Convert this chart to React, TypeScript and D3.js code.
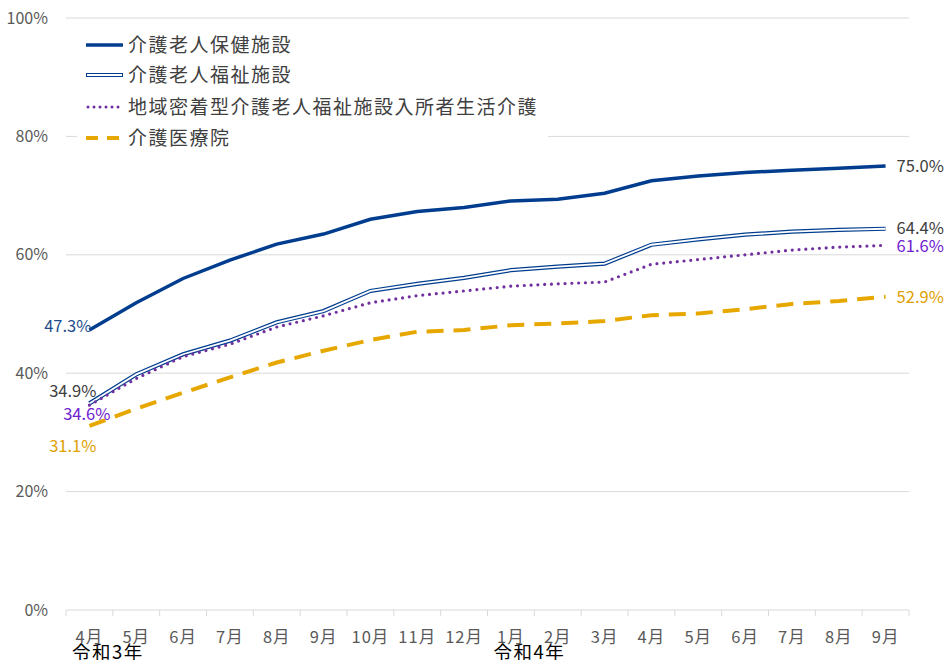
import React from "react";
import * as d3 from "d3";

const months = ["4月","5月","6月","7月","8月","9月","10月","11月","12月","1月","2月","3月","4月","5月","6月","7月","8月","9月"];
const eras = [{ label: "令和3年", index: 0 }, { label: "令和4年", index: 9 }];
const seriesNames = ["介護老人保健施設","介護老人福祉施設","地域密着型介護老人福祉施設入所者生活介護","介護医療院"];
const rouken = [47.3,51.9,56.0,59.1,61.8,63.5,66.0,67.3,68.0,69.1,69.4,70.4,72.5,73.3,73.9,74.3,74.6,75.0];
const tokuyo = [34.9,39.8,43.2,45.5,48.6,50.5,53.9,55.1,56.1,57.4,58.0,58.5,61.7,62.6,63.4,63.9,64.2,64.4];
const chiiki = [34.6,39.1,42.8,44.9,47.8,49.7,51.9,53.1,53.9,54.7,55.1,55.4,58.4,59.2,60.0,60.8,61.3,61.6];
const iryoin = [31.1,34.0,36.7,39.3,41.8,43.8,45.6,47.0,47.3,48.1,48.4,48.8,49.8,50.1,50.8,51.7,52.2,52.9];
const yTicks = [0,20,40,60,80,100];

const W = 944, H = 660;
const left = 66, right = 909, top = 18, bottom = 610;
const font = "'Noto Sans CJK JP','Noto Sans',sans-serif";

export default function App() {
  const x = d3.scaleBand<number>().domain(months.map((_, i) => i)).range([left, right]).padding(0);
  const y = d3.scaleLinear().domain([0, 100]).range([bottom, top]);
  const cx = (i: number) => (x(i) as number) + x.bandwidth() / 2;
  const line = d3.line<number>().x((_, i) => cx(i)).y(d => y(d));
  const last = months.length - 1;
  const boundaries = months.map((_, i) => x(i) as number).concat([right]);

  const startLabels = [
    { v: rouken[0], text: `${rouken[0].toFixed(1)}%`, color: "#1f4e8c", dx: 2, dy: -4 },
    { v: tokuyo[0], text: `${tokuyo[0].toFixed(1)}%`, color: "#404040", dx: 7, dy: -12 },
    { v: chiiki[0], text: `${chiiki[0].toFixed(1)}%`, color: "#7020d0", dx: 21, dy: 9 },
    { v: iryoin[0], text: `${iryoin[0].toFixed(1)}%`, color: "#e0a000", dx: 7, dy: 20 },
  ];
  const endLabels = [
    { v: rouken[last], text: `${rouken[last].toFixed(1)}%`, color: "#404040", dy: 0 },
    { v: tokuyo[last], text: `${tokuyo[last].toFixed(1)}%`, color: "#404040", dy: -1 },
    { v: chiiki[last], text: `${chiiki[last].toFixed(1)}%`, color: "#7020d0", dy: 1 },
    { v: iryoin[last], text: `${iryoin[last].toFixed(1)}%`, color: "#e0a000", dy: 0 },
  ];

  const legendY = [45, 75, 107, 138];

  return (
    <svg width={W} height={H} style={{ position: "absolute", left: 0, top: 0, background: "#fff" }} fontFamily={font}>
      {yTicks.map(t => (
        <g key={t}>
          {t > 0 && <line x1={left} x2={right} y1={y(t)} y2={y(t)} stroke="#d9d9d9" strokeWidth={1} />}
          <text x={48} y={y(t)} dy="0.35em" textAnchor="end" fontSize={16} fill="#595959">{`${t}%`}</text>
        </g>
      ))}
      <line x1={left} x2={right} y1={bottom} y2={bottom} stroke="#d9d9d9" strokeWidth={1.2} />
      {boundaries.map((b, i) => (
        <line key={i} x1={b} x2={b} y1={bottom} y2={bottom + 6} stroke="#d9d9d9" strokeWidth={1} />
      ))}
      {months.map((m, i) => (
        <text key={i} x={cx(i)} y={643} textAnchor="middle" fontSize={16.5} letterSpacing={1} fill="#595959">{m}</text>
      ))}
      {eras.map(e => (
        <text key={e.label} x={(x(e.index) as number) + 6} y={659} fontSize={18.5} letterSpacing={1.5} fill="#000">{e.label}</text>
      ))}

      <path d={line(iryoin) || ""} fill="none" stroke="#e6a800" strokeWidth={4} strokeDasharray="17 10" />
      <path d={line(tokuyo) || ""} fill="none" stroke="#003d8f" strokeWidth={4.2} />
      <path d={line(tokuyo) || ""} fill="none" stroke="#fff" strokeWidth={1.8} />
      <path d={line(chiiki) || ""} fill="none" stroke="#7030a0" strokeWidth={3.2} strokeDasharray="0 6.8" strokeLinecap="round" />
      <path d={line(rouken) || ""} fill="none" stroke="#003d8f" strokeWidth={3.5} />

      {startLabels.map((l, i) => (
        <text key={i} x={cx(0) + l.dx} y={y(l.v) + l.dy} dy="0.35em" textAnchor="end" fontSize={16.5} fill={l.color}>{l.text}</text>
      ))}
      {endLabels.map((l, i) => (
        <text key={i} x={cx(last) + 11} y={y(l.v) + l.dy} dy="0.35em" textAnchor="start" fontSize={16.5} fill={l.color}>{l.text}</text>
      ))}

      <rect x={77} y={26} width={471} height={126} fill="#fff" />
      {seriesNames.map((n, i) => {
        const yy = legendY[i];
        return (
          <g key={n}>
            {i === 0 && <line x1={86} x2={123} y1={yy} y2={yy} stroke="#003d8f" strokeWidth={3.5} />}
            {i === 1 && <>
              <line x1={86} x2={123} y1={yy} y2={yy} stroke="#003d8f" strokeWidth={4.2} />
              <line x1={87} x2={122} y1={yy} y2={yy} stroke="#fff" strokeWidth={1.8} />
            </>}
            {i === 2 && <line x1={88} x2={123} y1={yy} y2={yy} stroke="#7030a0" strokeWidth={3} strokeDasharray="0 6" strokeLinecap="round" />}
            {i === 3 && <line x1={86} x2={123} y1={yy} y2={yy} stroke="#e6a800" strokeWidth={4} strokeDasharray="12 9" />}
            <text x={128} y={yy} dy="0.35em" fontSize={19} letterSpacing={1.5} fill="#404040">{n}</text>
          </g>
        );
      })}
    </svg>
  );
}
